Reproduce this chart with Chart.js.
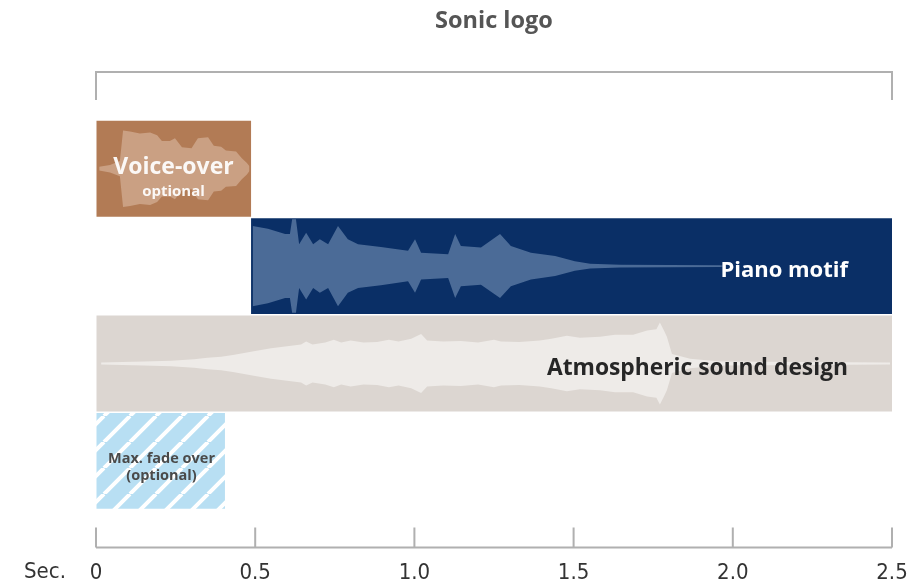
<!DOCTYPE html>
<html><head><meta charset="utf-8">
<script src="https://cdn.jsdelivr.net/npm/chart.js@4.4.0/dist/chart.umd.min.js"></script>
<style>html,body{margin:0;padding:0;background:#fff;}</style>
</head><body>
<canvas id="c" width="915" height="588"></canvas>
<script>
// ---------- data ----------
const chartTitle = 'Sonic logo';
const categories = ['Voice-over', 'Piano motif', 'Atmospheric sound design', 'Max. fade over'];
const barStart = [0, 0.487, 0, 0];
const barEnd = [0.487, 2.5, 2.5, 0.405];
const barMainLabels = ['Voice-over', 'Piano motif', 'Atmospheric sound design', 'Max. fade over'];
const barSubLabels = ['optional', '', '', '(optional)'];
const tickValues = [0, 0.5, 1.0, 1.5, 2.0, 2.5];
const tickLabels = ['0', '0.5', '1.0', '1.5', '2.0', '2.5'];
const axisUnit = 'Sec.';

// waveform envelopes (time in s, amplitude as share of the bar half-height)
const voiceWaveTime = [0.01, 0.044, 0.075, 0.085, 0.107, 0.138, 0.17, 0.192, 0.207, 0.232, 0.248, 0.27, 0.30, 0.32, 0.352, 0.37, 0.393, 0.408, 0.44, 0.458, 0.474, 0.482];
const voiceWaveAmp  = [0.04, 0.08, 0.16, 0.80, 0.78, 0.74, 0.76, 0.70, 0.58, 0.58, 0.64, 0.45, 0.43, 0.64, 0.66, 0.48, 0.46, 0.38, 0.36, 0.22, 0.12, 0.05];

const pianoWaveTime = [0.492, 0.54, 0.594, 0.609, 0.616, 0.628, 0.638, 0.66, 0.682, 0.703, 0.729, 0.76, 0.791, 0.823, 0.895, 0.98, 1.002, 1.021, 1.106, 1.128, 1.146, 1.209, 1.269, 1.303, 1.366, 1.442, 1.504, 1.552, 1.646, 1.96, 1.975];
const pianoWaveAmp  = [0.84, 0.78, 0.67, 0.67, 0.98, 0.98, 0.46, 0.70, 0.46, 0.56, 0.46, 0.84, 0.56, 0.46, 0.40, 0.32, 0.56, 0.28, 0.25, 0.67, 0.42, 0.39, 0.67, 0.42, 0.28, 0.21, 0.10, 0.05, 0.03, 0.02, 0.0];

const atmosWaveTime = [0.016, 0.15, 0.236, 0.308, 0.35, 0.393, 0.43, 0.465, 0.50, 0.55, 0.60, 0.644, 0.66, 0.68, 0.72, 0.747, 0.77, 0.80, 0.84, 0.883, 0.92, 0.95, 0.99, 1.021, 1.04, 1.09, 1.146, 1.20, 1.25, 1.272, 1.33, 1.394, 1.43, 1.479, 1.52, 1.583, 1.63, 1.687, 1.731, 1.76, 1.771, 1.783, 1.793, 1.809, 1.866, 1.96, 2.494];
const atmosWaveAmp  = [0.02, 0.04, 0.06, 0.09, 0.12, 0.14, 0.18, 0.22, 0.26, 0.32, 0.36, 0.40, 0.46, 0.40, 0.44, 0.50, 0.44, 0.48, 0.44, 0.45, 0.50, 0.46, 0.52, 0.62, 0.48, 0.46, 0.47, 0.44, 0.50, 0.46, 0.45, 0.48, 0.52, 0.58, 0.54, 0.56, 0.60, 0.60, 0.69, 0.72, 0.86, 0.70, 0.56, 0.20, 0.10, 0.04, 0.02];

// ---------- styles ----------
const FONT = '"Open Sans", Lato, sans-serif';
const TICKFONT = '"DejaVu Sans Condensed", "Liberation Sans Narrow", Lato, sans-serif';
function stripePattern(bg, stripe) {
  const s = 26;
  const c = document.createElement('canvas'); c.width = s; c.height = s;
  const g = c.getContext('2d');
  g.fillStyle = bg; g.fillRect(0, 0, s, s);
  g.strokeStyle = stripe; g.lineWidth = 4;
  g.beginPath();
  for (const k of [-1, 0, 1]) { g.moveTo(k * s, s); g.lineTo(k * s + s, 0); }
  g.stroke();
  return g.createPattern(c, 'repeat');
}
const barColors = ['#b27b55', '#0a2f66', '#dcd6d1', stripePattern('#b8dff3', '#ffffff')];
const labelColors = ['rgba(255,255,255,0.93)', '#ffffff', '#262626', '#4a4a4a'];

function waveDatasets(times, amps, row, color) {
  const upper = times.map((t, i) => ({ x: t, y: row - amps[i] * 0.49 }));
  const lower = times.map((t, i) => ({ x: t, y: row + amps[i] * 0.49 }));
  const common = { type: 'line', indexAxis: 'x', xAxisID: 'x', yAxisID: 'yw', borderWidth: 0,
    borderColor: 'rgba(0,0,0,0)', pointRadius: 0, pointHoverRadius: 0, tension: 0, order: 1 };
  return [
    Object.assign({}, common, { data: upper, fill: '+1', backgroundColor: color }),
    Object.assign({}, common, { data: lower, fill: false, backgroundColor: color })
  ];
}

const datasets = [{
  type: 'bar',
  xAxisID: 'x', yAxisID: 'y',
  data: barStart.map((s, i) => [s, barEnd[i]]),
  backgroundColor: barColors,
  borderWidth: 0,
  grouped: false,
  barPercentage: 0.985,
  categoryPercentage: 1,
  order: 10
}].concat(
  waveDatasets(voiceWaveTime, voiceWaveAmp, 0, '#caa083'),
  waveDatasets(pianoWaveTime, pianoWaveAmp, 1, '#4b6b97'),
  waveDatasets(atmosWaveTime, atmosWaveAmp, 2, '#eeebe8')
);

const decor = {
  id: 'decor',
  afterDatasetsDraw(chart) {
    const ctx = chart.ctx, xs = chart.scales.x, ys = chart.scales.y, ca = chart.chartArea;
    const x0 = xs.getPixelForValue(tickValues[0]);
    const x1 = xs.getPixelForValue(tickValues[tickValues.length - 1]);
    ctx.save();
    // bracket above
    ctx.strokeStyle = '#b0b0b0'; ctx.lineWidth = 2;
    ctx.beginPath();
    const bt = ca.top - 48, bb = ca.top - 20;
    ctx.moveTo(x0, bb); ctx.lineTo(x0, bt); ctx.lineTo(x1, bt); ctx.lineTo(x1, bb);
    ctx.stroke();
    // bottom axis with upward ticks
    const by = ca.bottom + 38;
    ctx.beginPath();
    ctx.moveTo(x0, by); ctx.lineTo(x1, by);
    tickValues.forEach(v => { const px = xs.getPixelForValue(v); ctx.moveTo(px, by); ctx.lineTo(px, by - 20); });
    ctx.stroke();
    // unit label
    ctx.fillStyle = '#333'; ctx.font = '22px ' + TICKFONT;
    ctx.textAlign = 'center'; ctx.textBaseline = 'middle';
    ctx.fillText(axisUnit, x0 - 51, ca.bottom + 63);
    // bar labels
    categories.forEach((c, i) => {
      const yc = ys.getPixelForValue(i);
      const xa = xs.getPixelForValue(barStart[i]), xb = xs.getPixelForValue(barEnd[i]);
      ctx.fillStyle = labelColors[i];
      if (i === 0) {
        ctx.textAlign = 'center';
        ctx.font = 'bold 23px ' + FONT; ctx.fillText(barMainLabels[i], (xa + xb) / 2, yc - 1);
        ctx.font = 'bold 15px ' + FONT; ctx.fillText(barSubLabels[i], (xa + xb) / 2, yc + 23);
      } else if (i === 3) {
        ctx.textAlign = 'center';
        ctx.font = 'bold 14.5px ' + FONT;
        ctx.fillText(barMainLabels[i], (xa + xb) / 2 + 1, yc - 2);
        ctx.fillText(barSubLabels[i], (xa + xb) / 2 + 1, yc + 15);
      } else {
        ctx.textAlign = 'right';
        ctx.font = 'bold ' + (i === 2 ? 22.8 : 22) + 'px ' + FONT;
        ctx.fillText(barMainLabels[i], xb - 44, yc + 5);
      }
    });
    ctx.restore();
  }
};

new Chart(document.getElementById('c'), {
  type: 'bar',
  data: { labels: categories, datasets },
  options: {
    responsive: false,
    animation: false,
    indexAxis: 'y',
    layout: { autoPadding: false, padding: { left: 96, right: 23, top: 0, bottom: 2 } },
    plugins: {
      legend: { display: false },
      tooltip: { enabled: false },
      title: { display: true, text: chartTitle, fullSize: false, color: '#555',
        font: { family: FONT, size: 23.5, weight: 'bold' }, padding: { top: 7, bottom: 84.8 } }
    },
    scales: {
      x: {
        type: 'linear', offset: false, min: tickValues[0], max: tickValues[tickValues.length - 1],
        afterBuildTicks: s => { s.ticks = tickValues.map(v => ({ value: v })); },
        grid: { display: true, drawOnChartArea: false, drawTicks: true, tickLength: 50, tickColor: 'rgba(0,0,0,0)' },
        border: { display: false },
        ticks: { padding: 0, color: '#333', font: { family: TICKFONT, size: 22 },
          callback: (v) => tickLabels[tickValues.indexOf(v)], maxRotation: 0 }
      },
      y: { type: 'category', display: false, offset: true, grid: { display: false } },
      yw: { type: 'linear', display: false, offset: false, min: -0.5, max: 3.5, reverse: true }
    }
  },
  plugins: [decor]
});
</script>
</body></html>
